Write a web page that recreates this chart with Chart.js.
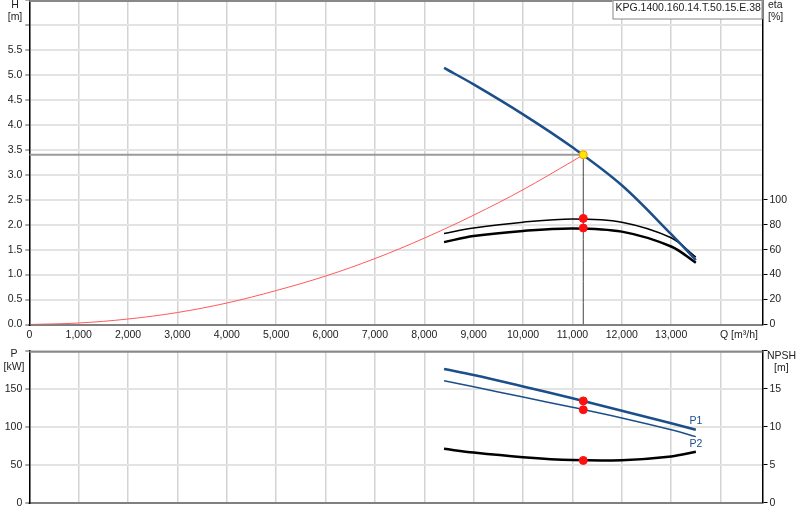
<!DOCTYPE html>
<html>
<head>
<meta charset="utf-8">
<title>KPG pump curve</title>
<script src="https://cdn.jsdelivr.net/npm/chart.js@4.4.0/dist/chart.umd.min.js"></script>
<style>
    html, body { margin: 0; padding: 0; background: #fff; }
    #wrap { position: relative; width: 800px; height: 520px; overflow: hidden; }
    canvas { position: absolute; left: 0; }
    #topChart { top: 0; }
    #bottomChart { top: 345px; }
</style>
</head>
<body>
<div id="wrap">
    <canvas id="topChart" width="800" height="345"></canvas>
    <canvas id="bottomChart" width="800" height="175"></canvas>
</div>
<script>
/* ======================================================
   DATA
====================================================== */

const pumpName = 'KPG.1400.160.14.T.50.15.E.38';

// flow points of the pump curves [m³/h]
const qPump = [8400, 9000, 10000, 11000, 12000, 13000, 13500];
const headPump = [5.14, 4.81, 4.21, 3.55, 2.79, 1.81, 1.29];
const etaUpper = [73, 77.3, 82, 84.6, 82, 69.5, 54];
const etaLower = [66, 70.9, 75, 77, 74.4, 62.5, 49.5];
const powerP1 = [176, 168, 153, 137.5, 121, 104.5, 96];
const powerP2 = [160.5, 152.5, 139, 125.5, 111.5, 96, 87];
const npsh = [7.1, 6.6, 6.0, 5.62, 5.6, 6.1, 6.7];

// system curve
const qSys = [0, 1000, 2000, 3000, 4000, 5000, 6000, 7000, 8000, 9000, 10000, 11000, 11220];
const headSys = [0, 0.03, 0.11, 0.24, 0.43, 0.68, 0.97, 1.32, 1.73, 2.19, 2.70, 3.27, 3.40];

// duty point
const qDuty = 11220;
const hDuty = 3.40;
const etaDuty = [85, 77.3];
const powerDuty = [134, 122.4];
const npshDuty = 5.57;

// ticks
const qTicks = [0, 1000, 2000, 3000, 4000, 5000, 6000, 7000, 8000, 9000, 10000, 11000, 12000, 13000, 14000];
const hTicks = [0, 0.5, 1, 1.5, 2, 2.5, 3, 3.5, 4, 4.5, 5, 5.5, 6, 6.5];
const etaTicks = [0, 20, 40, 60, 80, 100];
const pTicks = [0, 50, 100, 150, 200];
const npshTicks = [0, 5, 10, 15, 20];

const qMax = 14850;

/* ======================================================
   HELPERS
====================================================== */

const BLUE = '#1b4f8a';
const GRID_H = '#e3e3e3';
const GRID_V = '#d3d3d3';
const FONT = "'Liberation Sans', Arial, sans-serif";
const FONT_SIZE = 10.5;

Chart.defaults.font.family = FONT;
Chart.defaults.font.size = FONT_SIZE;
Chart.defaults.color = '#222';

const pts = (xs, ys) => xs.map((x, i) => ({ x, y: ys[i] }));

function curve(data, color, width, yAxisID) {
    return {
        data, yAxisID,
        borderColor: color,
        borderWidth: width,
        pointRadius: 0,
        showLine: true,
        fill: false,
        tension: 0.35
    };
}

function marker(data, yAxisID, fill, border) {
    return {
        data, yAxisID,
        showLine: false,
        pointRadius: 4,
        pointBackgroundColor: fill,
        pointBorderColor: border,
        pointBorderWidth: 1
    };
}

function fixedWidth(w) {
    return (scale) => {
        scale.width = w;
        scale.paddingTop = 0;
        scale.paddingBottom = 0;
    };
}

function fixedHeight(h) {
    return (scale) => {
        scale.height = h;
        scale.paddingLeft = 0;
        scale.paddingRight = 0;
    };
}

function setTicks(list) {
    return (scale) => { scale.ticks = list.map(v => ({ value: v })); };
}

// titles, frame, labels
const overlay = {
    id: 'overlay',
    afterDraw(chart, args, opts) {
        const ctx = chart.ctx;
        const a = chart.chartArea;
        ctx.save();

        // top frame line
        ctx.strokeStyle = '#888';
        ctx.lineWidth = 2;
        ctx.beginPath();
        ctx.moveTo(a.left, a.top + 1);
        ctx.lineTo(a.right, a.top + 1);
        ctx.stroke();

        ctx.font = FONT_SIZE + 'px ' + FONT;
        ctx.textBaseline = 'middle';

        (opts.texts || []).forEach(t => {
            ctx.textAlign = t.align || 'center';
            ctx.fillStyle = t.color || '#222';
            ctx.fillText(t.text, t.x, t.y);
        });

        if (opts.legend) {
            const w = 150;
            ctx.fillStyle = '#fff';
            ctx.fillRect(a.right - w, a.top, w, 19);
            ctx.strokeStyle = '#888';
            ctx.lineWidth = 1;
            ctx.strokeRect(a.right - w + 0.5, a.top + 0.5, w - 1, 18.5);
            ctx.fillStyle = '#222';
            ctx.textAlign = 'left';
            ctx.fillText(opts.legend, a.right - w + 3, a.top + 8);
        }

        if (opts.curveLabels) {
            const xs = chart.scales.x;
            const ys = chart.scales.y;
            ctx.fillStyle = BLUE;
            ctx.textAlign = 'center';
            const last = qPump.length - 1;
            ctx.fillText('P1', xs.getPixelForValue(qPump[last]), ys.getPixelForValue(powerP1[last]) - 9);
            ctx.fillText('P2', xs.getPixelForValue(qPump[last]), ys.getPixelForValue(powerP2[last]) + 7);
        }
        ctx.restore();
    }
};

/* ======================================================
   TOP CHART: H / eta
====================================================== */

new Chart(document.getElementById('topChart'), {
    type: 'scatter',
    data: {
        datasets: [
            marker([{ x: qDuty, y: hDuty }], 'y', '#ffe400', '#f29a00'),
            marker(etaDuty.map(v => ({ x: qDuty, y: v })), 'eta', '#ff1010', '#ff1010'),
            curve(pts(qPump, headPump), BLUE, 2.5, 'y'),
            curve(pts(qPump, etaUpper), '#000', 1.5, 'eta'),
            curve(pts(qPump, etaLower), '#000', 2.5, 'eta'),
            curve(pts(qSys, headSys), '#ff5a5a', 1, 'y'),
            curve([{ x: qDuty, y: hDuty }, { x: qDuty, y: 0 }], '#444', 1, 'y'),
            curve([{ x: 0, y: hDuty }, { x: qDuty, y: hDuty }], '#9a9a9a', 2, 'y')
        ]
    },
    options: {
        responsive: false,
        animation: false,
        events: [],
        layout: { padding: 0, autoPadding: false },
        plugins: {
            legend: { display: false },
            tooltip: { enabled: false },
            overlay: {
                legend: pumpName,
                texts: [
                    { text: 'H', x: 15, y: 5 },
                    { text: '[m]', x: 15, y: 17 },
                    { text: 'eta', x: 768, y: 5, align: 'left' },
                    { text: '[%]', x: 768, y: 17, align: 'left' },
                    { text: 'Q [m³/h]', x: 720, y: 335, align: 'left' }
                ]
            }
        },
        scales: {
            x: {
                type: 'linear',
                min: 0,
                max: qMax,
                afterBuildTicks: setTicks(qTicks),
                afterFit: fixedHeight(20.5),
                ticks: {
                    padding: 4,
                    maxRotation: 0,
                    callback: v => (v >= 14000 ? '' : v.toLocaleString('en-US'))
                },
                grid: { color: GRID_V, lineWidth: 1.5, drawTicks: false },
                border: { color: '#808080', width: 2 }
            },
            y: {
                position: 'left',
                min: 0,
                max: 6.5,
                afterBuildTicks: setTicks(hTicks),
                afterFit: fixedWidth(29.3),
                ticks: {
                    padding: 3,
                    callback: v => (v >= 6 ? '' : v.toFixed(1))
                },
                grid: { color: GRID_H, lineWidth: 2, tickLength: 4, tickColor: '#555', tickWidth: 1 },
                border: { color: '#000', width: 1.5 }
            },
            eta: {
                position: 'right',
                min: 0,
                max: 260,
                afterBuildTicks: setTicks(etaTicks),
                afterFit: fixedWidth(37.5),
                ticks: { padding: 2 },
                grid: { drawOnChartArea: false, tickLength: 5, tickColor: '#000', tickWidth: 1 },
                border: { color: '#000', width: 1.5 }
            }
        }
    },
    plugins: [overlay]
});

/* ======================================================
   BOTTOM CHART: P / NPSH
====================================================== */

new Chart(document.getElementById('bottomChart'), {
    type: 'scatter',
    data: {
        datasets: [
            marker(powerDuty.map(v => ({ x: qDuty, y: v })), 'y', '#ff1010', '#ff1010'),
            marker([{ x: qDuty, y: npshDuty }], 'npsh', '#ff1010', '#ff1010'),
            curve(pts(qPump, powerP1), BLUE, 2.5, 'y'),
            curve(pts(qPump, powerP2), BLUE, 1.5, 'y'),
            curve(pts(qPump, npsh), '#000', 2.5, 'npsh')
        ]
    },
    options: {
        responsive: false,
        animation: false,
        events: [],
        layout: { padding: { top: 5.7 }, autoPadding: false },
        plugins: {
            legend: { display: false },
            tooltip: { enabled: false },
            overlay: {
                curveLabels: true,
                texts: [
                    { text: 'P', x: 14, y: 9 },
                    { text: '[kW]', x: 14, y: 22 },
                    { text: 'NPSH', x: 767, y: 11, align: 'left' },
                    { text: '[m]', x: 774, y: 23, align: 'left' }
                ]
            }
        },
        scales: {
            x: {
                type: 'linear',
                min: 0,
                max: qMax,
                afterBuildTicks: setTicks(qTicks),
                afterFit: fixedHeight(17.2),
                ticks: { display: false },
                grid: { color: GRID_V, lineWidth: 1.5, drawTicks: false },
                border: { color: '#808080', width: 2 }
            },
            y: {
                position: 'left',
                min: 0,
                max: 200,
                afterBuildTicks: setTicks(pTicks),
                afterFit: fixedWidth(29.3),
                ticks: {
                    padding: 3,
                    callback: v => (v >= 200 ? '' : String(v))
                },
                grid: { color: GRID_H, lineWidth: 2, tickLength: 4, tickColor: '#555', tickWidth: 1 },
                border: { color: '#000', width: 1.5 }
            },
            npsh: {
                position: 'right',
                min: 0,
                max: 20,
                afterBuildTicks: setTicks(npshTicks),
                afterFit: fixedWidth(37.5),
                ticks: {
                    padding: 2,
                    callback: v => (v >= 20 ? '' : String(v))
                },
                grid: { drawOnChartArea: false, tickLength: 5, tickColor: '#000', tickWidth: 1 },
                border: { color: '#000', width: 1.5 }
            }
        }
    },
    plugins: [overlay]
});
</script>
</body>
</html>
